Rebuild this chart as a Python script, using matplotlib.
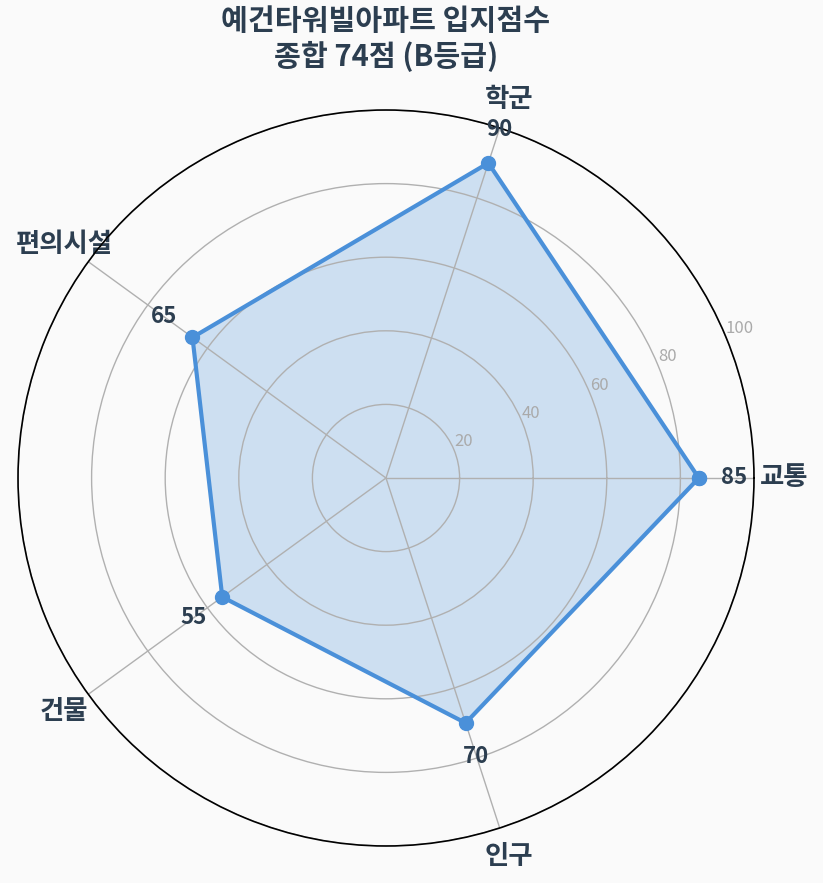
import numpy as np
import matplotlib

matplotlib.use("Agg")
import matplotlib.pyplot as plt

plt.rcParams["font.family"] = ["Noto Sans CJK KR", "DejaVu Sans"]

INK = "#2c3e50"
LINE = "#4a90d9"
BG = "#fafafa"

categories = ["교통", "학군", "편의시설", "건물", "인구"]
scores = [85, 90, 65, 55, 70]
r_ticks = [20, 40, 60, 80, 100]
title = "예건타워빌아파트 입지점수\n종합 74점 (B등급)"

angles = np.linspace(0, 2 * np.pi, len(categories), endpoint=False)
closed_angles = np.concatenate([angles, angles[:1]])
closed_scores = scores + scores[:1]

fig = plt.figure(figsize=(8.23, 8.83), dpi=100, facecolor=BG)
ax = fig.add_axes([18 / 823, 37 / 883, 736 / 823, 736 / 883], polar=True)
ax.set_facecolor(BG)

# fill sits under the grid so the rings stay grey inside the polygon
ax.fill(closed_angles, closed_scores, color=LINE, alpha=0.25, zorder=1)
ax.plot(closed_angles, closed_scores, color=LINE, linewidth=3,
        marker="o", markersize=10, zorder=3)

for a, v in zip(angles, scores):
    ax.text(a, v + 9.5, f"{v}", ha="center", va="center", fontsize=16,
            fontweight="bold", color=INK, zorder=4)

ax.set_ylim(0, 100)
ax.set_yticks(r_ticks)
ax.set_yticklabels([str(t) for t in r_ticks], fontsize=12, color="#aaaaaa")
ax.set_rlabel_position(22.5)
ax.set_xticks(angles)
ax.set_xticklabels(categories, fontsize=19, fontweight="bold", color=INK)
ax.tick_params(axis="x", pad=11)
ax.grid(color="#b0b0b0", linewidth=1, zorder=2)
ax.spines["polar"].set_color("black")
ax.spines["polar"].set_linewidth(1.2)

fig.text(0.469, 0.993, title, ha="center", va="top", fontsize=21,
         fontweight="bold", color=INK, linespacing=1.2)

fig.savefig("out.png", dpi=100, facecolor=BG)
